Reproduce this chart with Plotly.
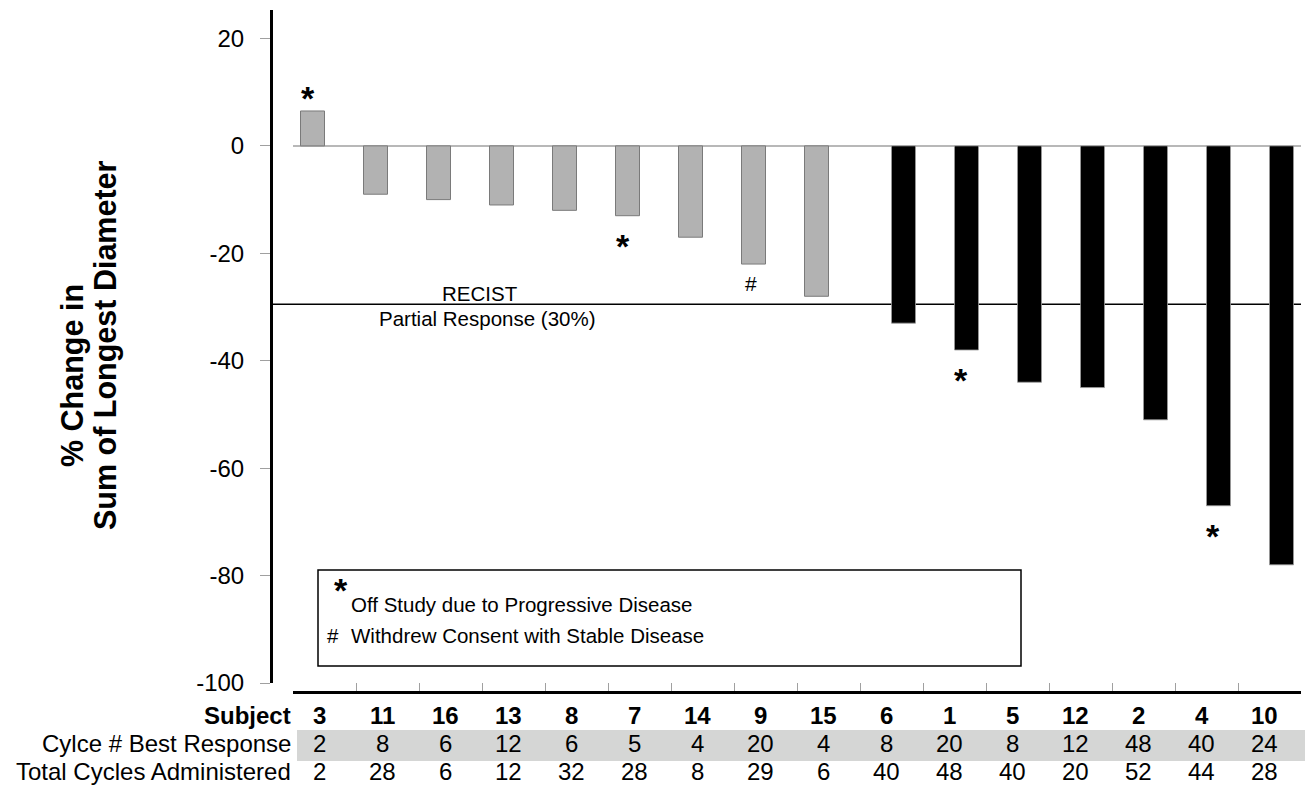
import plotly.graph_objects as go

# ---------------- data ----------------
subjects = ["3", "11", "16", "13", "8", "7", "14", "9", "15",
            "6", "1", "5", "12", "2", "4", "10"]
pct_change = [6.5, -9, -10, -11, -12, -13, -17, -22, -28,
              -33, -38, -44, -45, -51, -67, -78]
best_response_cycle = [2, 8, 6, 12, 6, 5, 4, 20, 4, 8, 20, 8, 12, 48, 40, 24]
total_cycles = [2, 28, 6, 12, 32, 28, 8, 29, 6, 40, 48, 40, 20, 52, 44, 28]
flags = ["*", "", "", "", "", "*", "", "#", "", "", "*", "", "", "", "*", ""]
recist_threshold = -29.5
y_ticks = [-100, -80, -60, -40, -20, 0, 20]
y_tick_text = ["-100", "-80", "-60", "-40", "-20", "0", "20"]
row_labels = ["Subject", "Cylce # Best Response", "Total Cycles Administered"]

# -------------- layout geometry --------------
OFF = 8                      # default page margin of the html body
W, H = 1313 - OFF, 785 - OFF
ML, MT = 271 - OFF, 10 - OFF
MR = W - (1301 - OFF)
MB = H - (692 - OFF)
PW = W - ML - MR
PH = H - MT - MB
FONT = "Liberation Sans, Arial, sans-serif"


def px_x(px):
    return (px - OFF - ML) / PW


def px_y(py):
    return (H - MB - (py - OFF)) / PH


idx = list(range(len(subjects)))
stable = [v if v > recist_threshold else None for v in pct_change]
partial = [v if v <= recist_threshold else None for v in pct_change]

fig = go.Figure()
fig.add_trace(go.Bar(x=subjects, y=stable, name="Stable",
                     marker=dict(color="#b2b2b2", line=dict(color="#7a7a7a", width=1))))
fig.add_trace(go.Bar(x=subjects, y=partial, name="Partial",
                     marker=dict(color="#000000", line=dict(color="#9a9a9a", width=0.8))))

shapes = []
shapes.append(dict(type="line", xref="x", yref="y", x0=-0.5, x1=len(subjects) - 0.5,
                   y0=0, y1=0, line=dict(color="#a0a0a0", width=1.5), layer="below"))
shapes.append(dict(type="line", xref="paper", yref="y", x0=0, x1=1,
                   y0=recist_threshold, y1=recist_threshold,
                   line=dict(color="#000000", width=1.5), layer="below"))
shapes.append(dict(type="rect", xref="paper", yref="paper",
                   x0=px_x(318), x1=px_x(1021), y0=px_y(666), y1=px_y(570),
                   line=dict(color="#000000", width=1.5), fillcolor="rgba(0,0,0,0)"))
shapes.append(dict(type="rect", xref="paper", yref="paper",
                   x0=px_x(297), x1=px_x(1311), y0=px_y(761), y1=px_y(730),
                   line=dict(width=0), fillcolor="#d5d6d5", layer="below"))

ann = []


def txt(x, y, text, size, xref="paper", yref="paper", xanchor="center", bold=False,
        angle=0, xshift=0, yshift=0):
    ann.append(dict(x=x, y=y, xref=xref, yref=yref, text=text, showarrow=False,
                    xanchor=xanchor, yanchor="middle", textangle=angle,
                    xshift=xshift, yshift=yshift,
                    font=dict(size=size, family=FONT, color="black",
                              weight="bold" if bold else "normal")))


# flags near bars
for i, v, f in zip(idx, pct_change, flags):
    if not f:
        continue
    xs = -16.5 if v > recist_threshold else 6.5
    if f == "*":
        ys = 13 if v > 0 else -30
        txt(i, v, "*", 34, xref="x", yref="y", bold=True, xshift=xs, yshift=ys)
    else:
        txt(i, v, "#", 21, xref="x", yref="y", xshift=xs + 2, yshift=-19)

# RECIST labels
txt(px_x(480), recist_threshold, "RECIST", 20.5, yref="y", yshift=11)
txt(px_x(487), recist_threshold, "Partial Response (30%)", 20.5, yref="y", yshift=-14)

# legend text
txt(px_x(341), px_y(590), "*", 34, bold=True)
txt(px_x(349), px_y(604), "Off Study due to Progressive Disease", 20.5, xanchor="left")
txt(px_x(333), px_y(635), "#", 20.5)
txt(px_x(349), px_y(635), "Withdrew Consent with Stable Disease", 20.5, xanchor="left")

# y axis title (two lines)
txt(px_x(72), px_y(376), "% Change in", 30.5, bold=True, angle=-90)
txt(px_x(105), px_y(345), "Sum of Longest Diameter", 30.5, bold=True, angle=-90)

# table below the axis
row_y = [px_y(715), px_y(743), px_y(772)]
rows = [subjects, best_response_cycle, total_cycles]
for r, (lab, vals, yy) in enumerate(zip(row_labels, rows, row_y)):
    txt(px_x(293), yy, lab, 24, xanchor="right", bold=(r == 0))
    for i, v in zip(idx, vals):
        txt(i, yy, str(v), 24, xref="x", bold=(r == 0), xshift=-5)

fig.update_layout(
    width=W, height=H,
    margin=dict(l=ML, r=MR, t=MT, b=MB),
    paper_bgcolor="white", plot_bgcolor="white",
    barmode="group", bargap=0.238, bargroupgap=0,
    showlegend=False,
    font=dict(family=FONT, color="black"),
    shapes=shapes, annotations=ann,
    xaxis=dict(type="category", categoryorder="array", categoryarray=subjects,
               domain=[px_x(293), 1], anchor="free", position=0,
               range=[-0.5, len(subjects) - 0.5],
               showline=True, linecolor="black", linewidth=3,
               ticks="inside", tickson="boundaries", ticklen=8, tickcolor="#a0a0a0",
               tickwidth=1, showticklabels=False, showgrid=False, zeroline=False),
    yaxis=dict(domain=[px_y(683), 1], anchor="free", position=0,
               range=[-100, 25.3], tickvals=y_ticks, ticktext=y_tick_text,
               showline=True, linecolor="black", linewidth=3,
               ticks="outside", ticklen=10, tickcolor="#a0a0a0", tickwidth=1,
               ticklabelstandoff=11,
               tickfont=dict(size=24, family=FONT, color="black"),
               showgrid=False, zeroline=False),
)

fig.write_html("out.html")
